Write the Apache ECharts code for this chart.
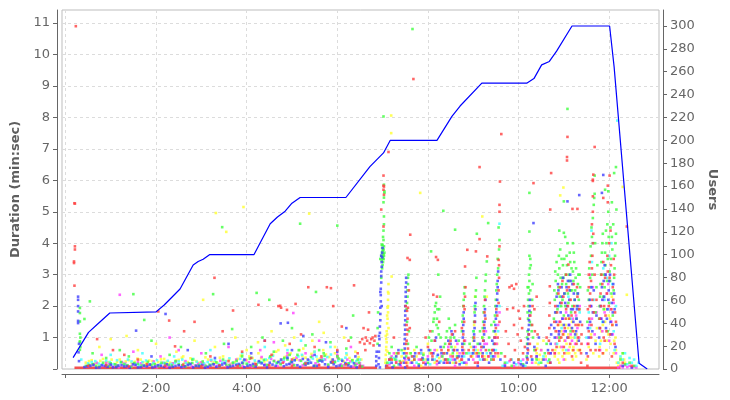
<!DOCTYPE html>
<html><head><meta charset="utf-8">
<script src="https://cdn.jsdelivr.net/npm/echarts@6/dist/echarts.min.js"></script>
<style>html,body{margin:0;padding:0;background:#fff}#c{width:730px;height:400px}</style>
</head><body><div id="c"></div>
<script>
// ---- axis ticks ----
const xTickValues = [0, 2, 4, 6, 8, 10, 12];
const xLabelValues = [2, 4, 6, 8, 10, 12];
const durTickValues = [0,1,2,3,4,5,6,7,8,9,10,11];
const durLabelValues = [1,2,3,4,5,6,7,8,9,10,11];
const userTickValues = [0,20,40,60,80,100,120,140,160,180,200,220,240,260,280,300];

// ---- users line (minutes, users) ----
const usersTime  = [0.17,0.51,0.73,0.98,2.0,2.18,2.53,2.82,2.93,3.04,3.18,4.16,4.52,4.68,4.85,5.0,5.18,6.19,6.72,7.02,7.17,8.2,8.53,8.71,9.19,10.18,10.34,10.51,10.68,10.84,11.18,12.01,12.11,12.66,12.84];
const usersCount = [10,32,40,49,50,56,70,91,94,96,100,100,127,133,138,145,150,150,177,189,200,200,221,230,250,250,254,266,269,278,300,300,264,5,0];

// ---- red floor of shortest samples: [start, end] minutes ----
const redFloorSpans = [[0.2, 6.88], [7.05, 12.25]];
const redFloorDuration = 0.04;

// ---- scatter samples, flat lists of (minute, duration) ----
const redPts = [0.23,10.9,0.2,5.27,0.21,5.26,0.21,3.9,0.21,3.8,0.19,3.42,0.19,3.37,0.2,2.65,
0.7,0.95,1.05,0.6,1.3,0.45,1.6,0.3,2.05,1.83,2.29,1.54,2.42,0.72,2.62,1.2,2.85,1.5,3.29,2.9,3.47,1.2,3.7,1.86,3.9,0.55,4.26,2.04,4.4,0.9,4.7,2.0,4.74,2.01,4.76,1.95,4.89,1.88,4.95,0.8,5.08,2.07,5.2,1.1,5.36,2.6,5.5,0.7,5.77,2.6,5.86,2.57,5.91,2.0,6.1,1.35,6.25,0.9,6.37,2.66,6.45,0.5,3.2,0.4,3.6,0.25,4.1,0.35,4.55,0.45,5.0,0.3,5.65,0.4,6.0,0.6,
0.5,0.1,0.9,0.12,1.4,0.08,1.8,0.15,2.2,0.1,2.6,0.14,3.0,0.09,3.4,0.12,3.8,0.1,4.2,0.15,4.5,0.12,4.8,0.2,5.0,0.1,5.3,0.18,5.6,0.12,5.9,0.22,6.2,0.15,6.5,0.1,
6.5,0.85,6.55,0.95,6.6,0.8,6.63,1.0,6.66,0.9,6.7,1.8,6.72,0.82,6.75,0.95,6.78,1.0,6.8,0.75,6.82,0.9,6.84,1.05,6.62,0.6,6.58,1.3,6.68,1.25,
7.02,6.15,7.02,5.83,7.02,5.7,6.97,5.07,7.02,4.53,7.13,6.9,7.68,9.22,7.03,5.8,7.03,5.54,
7.1,0.1,7.2,0.3,7.3,0.2,7.35,0.5,7.25,1.0,7.15,0.3,7.4,0.2,
7.52,0.2,7.53,0.5,7.52,0.8,7.54,1.1,7.53,1.4,7.55,1.6,7.54,1.85,7.56,1.95,7.51,2.0,7.57,0.35,7.56,0.65,7.6,1.3,7.61,4.27,7.6,3.47,7.55,3.53,7.58,2.5,7.53,0.9,7.55,1.25,7.54,0.1,
7.7,0.3,7.8,0.5,7.9,0.2,8.0,0.7,8.05,1.2,8.1,0.4,8.15,0.9,8.2,0.25,8.25,1.5,8.12,2.36,8.2,2.3,8.18,3.56,8.22,3.47,7.95,1.0,8.3,0.6,7.65,0.4,7.85,0.3,8.08,0.5,
8.4,0.3,8.45,0.6,8.5,0.9,8.55,0.4,8.6,1.2,8.62,0.2,8.35,0.5,8.43,0.2,8.47,0.8,8.53,1.1,8.58,0.6,8.65,0.35,
8.74,0.3,8.76,0.7,8.78,1.1,8.8,1.5,8.81,1.9,8.82,2.3,8.83,2.6,8.82,3.26,8.87,3.79,8.77,0.5,8.75,1.3,8.79,2.0,8.8,0.9,8.9,0.6,
8.95,0.4,9.02,1.0,9.1,0.2,9.06,3.74,9.01,0.6,9.03,1.5,9.04,0.2,9.08,0.5,9.18,0.7,
9.2,0.4,9.22,0.9,9.24,1.4,9.25,1.8,9.26,2.2,9.28,0.6,9.14,4.13,9.14,6.42,9.31,3.58,9.23,1.2,9.25,0.3,9.27,1.6,9.33,0.4,9.42,0.6,
9.45,0.3,9.48,0.8,9.5,1.3,9.53,1.7,9.55,0.5,9.56,2.1,9.56,2.5,9.57,2.9,9.57,3.3,9.56,3.47,9.58,3.9,9.58,5.0,9.58,5.22,9.59,5.96,9.54,1.0,9.58,1.5,9.62,7.47,9.47,1.0,9.49,0.5,9.51,1.9,
9.7,0.4,9.75,1.9,9.78,0.8,9.8,2.6,9.85,2.65,9.88,1.94,9.9,1.4,9.92,0.6,9.95,2.7,9.98,1.1,10.0,0.3,10.03,1.6,10.05,0.9,10.08,1.3,10.1,0.5,10.12,2.0,10.14,0.7,9.72,1.2,9.83,0.3,10.0,1.85,9.9,2.55,
10.2,0.3,10.25,0.8,10.3,1.4,10.33,5.91,10.35,1.9,10.38,0.6,10.42,1.1,10.4,2.3,10.21,0.6,10.23,1.1,10.26,1.7,10.28,0.4,10.31,2.0,10.36,1.2,
10.66,0.5,10.67,0.9,10.68,1.3,10.68,1.7,10.69,2.1,10.69,2.63,10.7,5.07,10.72,6.23,10.7,0.2,10.62,1.0,10.75,0.6,
10.8,0.5,10.82,1.2,10.85,1.8,10.88,2.4,10.9,0.9,10.92,1.5,10.95,2.1,10.97,2.8,11.0,0.7,11.02,1.3,11.05,1.9,11.07,2.5,11.1,3.32,11.1,1.0,11.12,1.6,11.15,2.2,11.18,0.4,11.2,1.2,11.22,2.7,11.25,1.8,11.28,0.8,11.3,2.3,11.32,1.4,11.35,0.6,11.07,6.74,11.07,6.63,11.08,7.38,11.19,5.09,11.3,5.09,11.05,3.0,10.98,1.1,
10.79,1.5,10.81,2.0,10.84,0.7,10.87,1.4,10.91,2.6,10.94,1.0,10.99,2.3,11.01,0.5,11.04,1.6,11.09,2.0,11.11,2.6,11.14,0.8,11.17,1.7,11.21,0.6,11.23,2.0,11.26,1.4,11.29,2.6,11.31,1.0,11.34,1.9,
11.38,0.2,11.38,0.5,11.39,0.8,11.39,1.1,11.4,1.4,
11.52,0.1,11.53,0.4,11.54,0.8,11.55,1.2,11.56,1.6,11.57,2.0,11.58,2.4,11.6,2.8,11.62,3.2,11.63,3.6,11.64,4.0,11.62,4.6,11.64,5.0,11.64,5.49,11.65,6.18,11.64,6.02,11.64,5.98,11.68,7.06,11.55,2.6,11.6,1.0,11.66,1.8,11.7,0.6,11.72,2.2,11.68,3.0,11.53,1.9,11.55,3.0,11.57,3.4,11.59,0.6,11.61,1.4,11.63,2.2,11.65,4.3,
11.78,0.6,11.8,1.3,11.82,2.0,11.85,2.7,11.87,3.4,11.9,0.9,11.92,1.7,11.95,2.4,11.97,3.1,12.0,4.0,11.97,5.83,11.87,5.44,12.02,1.1,12.05,1.9,12.08,2.6,12.1,3.5,12.12,0.8,12.15,1.5,12.01,6.15,12.03,4.4,11.88,1.0,12.06,0.4,11.97,5.3,
11.79,1.6,11.81,2.4,11.83,3.0,11.86,0.5,11.89,2.0,11.91,2.9,11.94,1.2,11.96,3.6,11.99,2.0,12.01,2.9,12.04,3.3,12.07,1.4,12.09,2.2,12.11,3.0,12.13,1.8,
12.39,4.53,12.3,0.2,12.5,0.1];

const bluePts = [0.28,2.3,0.28,2.2,0.28,2.0,0.28,1.83,0.28,1.53,0.28,1.46,0.29,0.53,0.3,0.25,0.3,0.8,
0.42,0.06,0.55,0.1,0.68,0.04,0.8,0.12,0.93,0.07,1.05,0.05,1.17,0.11,1.3,0.08,1.42,0.04,1.55,0.13,1.66,0.06,1.8,0.09,1.92,0.05,2.04,0.12,2.18,0.07,2.3,0.04,2.43,0.1,2.56,0.06,2.7,0.13,2.82,0.05,2.95,0.09,3.08,0.04,3.2,0.11,3.33,0.07,3.46,0.14,3.58,0.05,3.7,0.1,3.83,0.16,3.95,0.06,4.08,0.12,4.2,0.08,4.33,0.18,4.45,0.05,4.57,0.14,4.7,0.22,4.82,0.09,4.94,0.16,5.06,0.28,5.18,0.07,5.3,0.13,5.42,0.2,5.55,0.1,5.67,0.24,5.8,0.06,5.92,0.15,6.05,0.11,6.18,0.19,6.3,0.08,6.43,0.05,
0.48,0.08,0.62,0.13,0.75,0.05,0.87,0.1,1.0,0.14,1.12,0.06,1.24,0.12,1.36,0.09,1.49,0.15,1.6,0.05,1.73,0.11,1.86,0.14,1.98,0.08,2.11,0.1,2.24,0.15,2.37,0.07,2.5,0.12,2.63,0.09,2.76,0.16,2.89,0.1,3.02,0.13,3.14,0.07,3.27,0.15,3.4,0.1,3.52,0.18,3.64,0.08,3.77,0.13,3.9,0.2,4.02,0.1,4.14,0.16,4.27,0.25,4.39,0.12,4.51,0.2,4.64,0.1,4.76,0.3,4.88,0.14,5.0,0.22,5.12,0.12,5.24,0.32,5.36,0.18,5.48,0.1,5.61,0.27,5.73,0.15,5.86,0.22,5.98,0.09,6.11,0.26,6.24,0.12,6.37,0.18,6.5,0.1,
1.56,1.22,2.21,1.75,1.9,0.4,2.7,0.6,3.3,0.35,3.6,0.8,4.1,0.5,4.4,0.9,4.75,1.45,5.0,0.6,5.25,1.05,5.5,0.45,5.75,0.85,6.0,0.55,6.2,1.3,6.4,0.4,3.95,0.3,4.9,0.35,5.35,0.3,5.9,0.3,4.91,1.47,
6.86,0.1,6.86,0.25,6.86,0.4,6.87,0.55,
6.91,0.15,6.92,0.35,6.92,0.55,6.93,0.75,6.93,0.95,6.94,1.15,6.94,1.35,6.95,1.55,6.95,1.75,6.95,1.95,6.96,2.15,6.96,2.35,6.96,2.55,6.97,2.75,6.97,2.95,6.97,3.1,6.98,3.25,6.98,3.4,6.99,3.55,6.99,3.7,7.0,3.85,6.94,0.05,6.97,3.6,6.98,2.0,6.92,1.05,6.95,2.45,
7.08,0.1,7.15,0.3,7.22,0.05,7.3,0.4,7.38,0.15,7.2,0.2,7.35,0.6,
7.47,0.2,7.48,0.5,7.48,0.8,7.49,1.1,7.49,1.4,7.5,1.7,7.5,2.0,7.51,2.3,7.51,2.6,7.52,2.9,7.5,0.05,7.48,0.35,7.49,0.65,7.49,0.95,7.5,1.25,7.5,1.55,7.5,1.85,7.51,2.15,7.51,2.45,7.52,2.75,
7.65,0.2,7.72,0.5,7.8,0.1,7.88,0.35,7.95,0.15,8.02,0.6,8.1,0.3,8.16,0.9,8.22,0.45,8.28,0.7,8.18,1.0,8.25,0.2,7.58,0.3,7.7,0.4,7.85,0.6,8.0,0.3,8.12,0.5,
8.35,0.2,8.42,0.5,8.5,0.8,8.55,1.1,8.6,0.3,8.65,0.6,8.7,0.15,8.75,0.4,8.76,0.6,8.77,1.0,8.78,1.4,8.79,1.8,8.8,0.2,8.76,0.8,8.78,1.2,8.79,1.6,8.3,0.5,8.38,0.3,8.45,0.9,8.48,0.2,8.52,1.2,8.57,0.6,8.62,0.9,8.68,0.4,8.9,0.3,
9.0,0.5,9.02,0.9,9.03,1.3,9.04,1.7,9.05,2.1,9.01,0.7,9.02,1.1,9.04,1.5,9.05,1.9,9.12,0.4,9.15,0.8,
9.22,0.3,9.23,0.7,9.24,1.1,9.25,1.5,9.26,1.9,9.27,2.2,9.21,0.5,9.23,0.9,9.25,1.3,9.26,1.7,9.38,0.5,9.42,0.9,
9.44,0.4,9.46,0.8,9.48,1.2,9.5,1.6,9.52,2.0,9.53,2.4,9.54,2.8,9.55,3.1,9.1,0.1,9.35,0.2,9.45,0.6,9.47,1.0,9.49,1.4,9.51,1.8,9.53,2.2,9.54,2.6,9.6,0.3,
9.7,0.1,9.9,0.2,10.05,0.15,10.1,0.1,
10.18,0.2,10.2,0.5,10.21,0.8,10.22,1.1,10.23,1.4,10.24,1.7,10.25,2.0,10.3,0.3,10.35,0.7,10.33,4.64,10.4,0.4,10.45,1.0,10.19,0.35,10.2,0.65,10.21,0.95,10.22,1.25,10.23,1.55,10.24,1.85,10.25,2.2,
10.55,0.3,10.6,0.1,10.7,0.2,10.71,0.5,10.71,0.8,10.72,1.1,10.72,1.4,10.65,0.6,
10.8,1.0,10.83,1.5,10.86,2.0,10.88,2.5,10.9,1.2,10.93,1.8,10.96,2.3,10.98,2.9,11.0,1.4,11.03,2.1,11.06,2.6,11.08,1.0,11.1,1.7,11.12,2.2,11.15,2.8,11.18,1.3,11.2,1.9,11.22,2.4,11.25,1.1,11.28,1.6,11.3,2.0,11.33,0.9,11.36,1.5,11.08,5.33,11.34,5.53,11.14,3.0,
10.79,1.3,10.81,1.8,10.84,2.3,10.87,2.7,10.89,1.1,10.92,2.1,10.95,2.6,10.97,1.6,11.01,2.4,11.04,1.2,11.07,2.0,11.09,2.8,11.11,1.4,11.13,2.5,11.16,1.9,11.19,2.7,11.21,1.5,11.24,2.2,11.27,1.2,11.29,1.9,11.31,2.4,
11.5,0.5,11.55,1.0,11.58,1.5,11.6,2.0,11.63,1.2,11.66,2.5,11.7,0.8,11.72,1.7,11.53,1.3,11.57,2.2,11.61,2.6,11.64,1.8,
11.78,1.0,11.82,1.6,11.85,2.2,11.88,2.8,11.9,3.3,11.93,1.3,11.96,1.9,11.99,2.5,12.02,3.0,12.05,1.1,12.08,1.8,12.11,2.4,12.14,0.7,11.87,6.17,11.84,5.6,12.16,1.4,
11.79,1.3,11.81,2.0,11.84,2.6,11.87,1.5,11.89,2.3,11.92,3.0,11.95,1.6,11.98,2.2,12.0,2.8,12.03,1.5,12.06,2.1,12.09,2.7,12.12,1.9,
12.3,0.1,12.5,0.05];

const greenPts = [0.32,1.94,0.32,1.78,0.32,1.51,0.32,1.12,0.32,0.88,0.32,0.85,0.32,0.61,0.54,2.15,0.42,1.59,0.33,0.7,0.33,1.0,
0.45,0.1,0.6,0.15,0.75,0.08,0.9,0.12,1.0,0.18,1.15,0.1,1.3,0.14,1.45,0.07,1.6,0.16,1.75,0.1,1.9,0.13,2.05,0.09,2.2,0.17,2.35,0.11,2.5,0.15,2.65,0.08,2.8,0.19,2.95,0.12,3.1,0.1,3.25,0.16,3.4,0.09,3.55,0.14,3.7,0.2,3.85,0.11,4.0,0.17,4.15,0.1,4.3,0.22,4.45,0.13,4.6,0.25,4.75,0.15,4.9,0.3,5.05,0.12,5.2,0.26,5.35,0.18,5.5,0.1,5.65,0.28,5.8,0.14,5.95,0.22,6.1,0.1,6.25,0.18,6.4,0.12,6.55,0.08,
0.52,0.13,0.68,0.1,0.83,0.2,0.97,0.09,1.1,0.15,1.23,0.22,1.37,0.12,1.52,0.19,1.68,0.11,1.82,0.23,1.97,0.15,2.12,0.2,2.28,0.13,2.43,0.25,2.58,0.12,2.73,0.18,2.88,0.1,3.03,0.24,3.18,0.14,3.33,0.21,3.48,0.3,3.62,0.12,3.78,0.26,3.92,0.18,4.07,0.33,4.22,0.14,4.38,0.29,4.52,0.4,4.67,0.2,4.83,0.35,4.98,0.22,5.12,0.45,5.27,0.16,5.42,0.38,5.57,0.24,5.72,0.42,5.88,0.2,6.03,0.33,6.18,0.15,6.33,0.28,6.48,0.2,
0.6,0.5,0.9,0.35,1.2,0.6,1.5,2.38,1.74,1.56,1.4,0.4,1.9,0.9,2.3,0.45,2.55,0.7,2.8,0.3,3.26,2.38,3.68,1.27,3.1,0.5,3.5,0.8,3.9,0.4,4.22,2.42,4.5,2.2,4.1,0.7,4.35,1.0,4.6,0.55,4.8,0.9,5.0,1.3,5.15,0.6,5.3,0.75,5.53,2.45,5.45,1.1,5.7,0.5,5.85,0.85,6.0,0.4,6.35,1.7,6.2,0.65,6.45,0.3,3.46,4.51,5.18,4.62,6.0,4.56,4.95,0.45,5.6,0.6,6.3,1.0,
6.89,0.8,6.89,1.3,6.9,1.8,
6.95,3.5,6.97,3.6,6.99,3.7,7.0,3.55,7.01,3.8,7.02,3.65,7.03,3.9,6.98,3.45,7.0,3.75,7.02,3.5,7.04,3.7,6.99,3.85,7.01,4.2,7.02,4.4,7.03,4.6,7.03,4.85,7.02,5.3,7.03,5.45,7.04,5.6,7.04,5.65,7.03,5.86,7.02,8.03,6.97,2.9,6.99,3.2,7.0,3.3,7.01,3.4,6.98,3.95,7.0,3.6,7.01,3.5,7.02,3.8,7.03,3.6,7.0,3.95,7.02,4.1,
7.1,0.2,7.18,0.35,7.25,0.1,7.32,0.5,7.38,0.25,7.2,0.7,7.15,0.5,7.28,0.3,7.42,0.6,
7.53,1.9,7.54,2.1,7.55,2.3,7.55,2.5,7.56,2.7,7.56,2.9,7.57,3.0,7.54,1.5,7.58,1.2,7.52,0.4,7.56,0.8,
7.7,0.3,7.8,0.15,7.9,0.45,8.0,0.2,8.05,0.6,8.1,1.2,8.12,1.5,8.15,1.8,8.18,2.1,8.2,1.6,8.22,1.3,8.25,1.9,8.27,2.3,8.07,3.74,8.23,3.0,8.28,1.0,8.08,0.9,7.66,10.81,8.13,1.6,8.16,2.0,8.19,1.4,8.21,1.9,8.24,1.1,7.62,0.5,7.75,0.7,7.88,0.3,8.02,1.0,
8.32,0.4,8.38,0.8,8.42,1.2,8.46,1.6,8.5,1.0,8.55,0.5,8.6,1.4,8.34,5.03,8.6,4.43,8.75,1.2,8.77,1.7,8.79,2.2,8.81,2.6,8.8,0.8,8.76,1.5,8.78,2.0,8.8,2.4,8.35,0.7,8.4,1.0,8.44,0.3,8.48,1.3,8.52,0.7,8.58,1.0,8.64,0.4,8.68,0.9,8.85,0.5,8.92,0.8,
9.0,1.0,9.02,1.5,9.04,2.0,9.06,2.5,9.07,2.9,9.08,4.3,9.01,1.2,9.03,1.8,9.05,2.3,9.1,0.8,9.15,1.2,
9.2,1.0,9.22,1.5,9.24,2.0,9.26,2.5,9.28,3.0,9.3,3.42,9.33,4.64,9.21,1.3,9.23,1.8,9.25,2.3,9.27,2.8,9.35,1.0,9.4,1.4,
9.45,1.2,9.48,1.7,9.5,2.2,9.52,2.7,9.55,3.2,9.57,3.8,9.58,4.1,9.56,4.5,9.12,0.5,9.35,0.6,9.4,0.3,9.46,1.5,9.49,2.0,9.51,2.5,9.53,3.0,9.54,3.5,9.62,0.5,
9.7,0.2,9.85,0.1,10.0,0.3,10.1,0.15,
10.18,0.4,10.19,0.8,10.2,1.2,10.21,1.6,10.22,2.0,10.23,2.4,10.24,2.8,10.25,3.2,10.26,3.5,10.24,4.37,10.24,5.6,10.28,1.4,10.3,2.2,10.32,1.0,10.35,0.6,10.2,2.6,10.27,1.8,10.4,0.3,
10.19,1.0,10.2,1.8,10.21,2.2,10.22,2.6,10.23,3.0,10.25,1.5,10.26,2.5,10.27,3.3,10.29,1.2,10.31,2.7,10.24,3.6,
10.5,0.2,10.58,0.5,10.62,0.8,10.68,0.3,
10.78,1.6,10.8,2.2,10.82,2.8,10.84,3.4,10.86,1.9,10.88,2.6,10.9,3.2,10.92,3.8,10.94,2.0,10.96,2.7,10.98,3.3,11.0,1.7,11.02,2.4,11.04,3.0,11.06,3.6,11.08,4.0,11.1,2.1,11.12,2.8,11.14,3.4,11.16,1.8,11.18,2.5,11.2,3.1,11.22,3.7,11.24,2.2,11.26,2.9,11.28,1.6,11.3,2.4,11.32,3.0,11.34,1.9,11.36,2.6,11.0,4.33,11.0,5.33,11.08,8.27,10.9,1.0,11.15,1.2,
10.79,2.5,10.81,3.1,10.83,1.8,10.85,2.4,10.87,3.0,10.89,3.6,10.91,2.3,10.93,2.9,10.95,3.5,10.97,2.2,10.99,2.9,11.01,3.5,11.03,2.0,11.05,2.7,11.07,3.3,11.09,2.4,11.11,3.0,11.13,3.7,11.15,2.5,11.17,3.2,11.19,2.0,11.21,2.8,11.23,3.4,11.25,2.5,11.27,3.2,11.29,2.0,11.31,2.7,11.33,2.2,11.35,3.0,10.9,4.4,11.03,4.2,11.2,4.0,
11.52,1.5,11.55,2.2,11.58,2.9,11.6,3.6,11.62,4.2,11.64,4.8,11.66,5.22,11.67,5.44,11.68,5.57,11.68,6.15,11.7,1.8,11.72,2.6,11.74,3.3,11.53,2.5,11.56,3.2,11.59,3.9,11.61,4.5,11.63,3.0,11.69,4.0,
11.78,1.6,11.8,2.3,11.82,3.0,11.84,3.7,11.86,4.3,11.88,1.9,11.9,2.6,11.92,3.3,11.94,4.0,11.96,4.6,11.98,5.0,12.0,2.1,12.02,2.8,12.04,3.5,12.06,4.2,12.08,1.7,12.1,2.5,12.12,3.2,12.14,4.0,12.16,5.07,12.11,6.23,12.15,6.42,12.06,5.3,11.91,5.7,11.98,5.65,11.97,1.2,
11.79,2.0,11.81,2.7,11.83,3.4,11.85,4.0,11.87,2.3,11.89,3.0,11.91,3.7,11.93,4.4,11.95,2.8,11.97,3.5,11.99,4.2,12.01,3.1,12.03,4.5,12.05,2.4,12.07,3.8,12.09,4.6,12.11,2.9,12.13,3.6,12.15,4.3,
12.25,0.3,12.35,0.15,12.45,0.2,12.55,0.1,12.3,0.5];

const yellowPts = [0.45,0.2,0.58,0.28,0.7,0.18,0.83,0.32,0.95,0.22,1.08,0.16,1.2,0.3,1.33,0.24,1.46,0.19,1.59,0.33,1.72,0.21,1.85,0.27,1.98,0.17,2.11,0.31,2.24,0.23,2.37,0.18,2.5,0.29,2.63,0.2,2.76,0.34,2.89,0.25,3.02,0.19,3.15,0.3,3.28,0.22,3.41,0.36,3.54,0.24,3.67,0.18,3.8,0.32,3.93,0.26,4.06,0.4,4.19,0.21,4.32,0.34,4.45,0.28,4.58,0.45,4.71,0.25,4.84,0.38,4.97,0.5,5.1,0.3,5.23,0.42,5.36,0.27,5.49,0.55,5.62,0.33,5.75,0.46,5.88,0.29,6.01,0.4,6.14,0.24,6.27,0.35,6.4,0.2,6.53,0.3,
0.52,0.25,0.64,0.17,0.77,0.26,0.89,0.2,1.02,0.3,1.14,0.22,1.27,0.18,1.4,0.28,1.53,0.23,1.66,0.3,1.79,0.18,1.92,0.25,2.05,0.22,2.18,0.32,2.31,0.2,2.44,0.27,2.57,0.36,2.7,0.22,2.83,0.3,2.96,0.2,3.09,0.37,3.22,0.26,3.35,0.2,3.48,0.4,3.61,0.3,3.74,0.22,3.87,0.42,4.0,0.28,4.13,0.35,4.26,0.5,4.39,0.24,4.52,0.38,4.65,0.55,4.78,0.3,4.91,0.44,5.04,0.34,5.17,0.6,5.3,0.36,5.43,0.48,5.56,0.3,5.69,0.6,5.82,0.38,5.95,0.5,6.08,0.3,6.21,0.45,6.34,0.28,6.47,0.38,
0.75,0.7,1.0,0.95,1.35,1.05,1.6,0.6,2.0,0.8,2.45,0.55,2.85,0.9,3.04,2.2,3.3,0.7,3.75,1.0,4.0,0.6,4.25,0.85,4.55,1.2,4.85,0.75,5.05,1.0,5.25,0.65,5.45,0.9,5.7,1.15,5.95,0.7,6.15,1.0,6.4,0.55,5.6,1.5,4.7,0.6,3.9,0.45,2.6,0.4,3.32,4.96,3.55,4.36,3.93,5.15,5.38,4.94,
7.06,0.2,7.07,0.45,7.08,0.7,7.08,0.95,7.09,1.2,7.1,1.45,7.1,1.7,7.11,1.95,7.12,2.2,7.12,2.45,7.13,2.7,7.2,2.94,7.09,0.1,7.11,0.55,7.13,1.3,7.19,8.06,7.19,7.5,7.83,5.6,7.07,1.05,7.12,2.0,7.07,0.3,7.08,0.6,7.09,0.85,7.1,1.1,7.11,1.6,7.12,1.8,7.13,2.4,
7.22,0.3,7.28,0.5,7.35,0.15,7.42,0.4,7.48,0.6,7.55,0.2,7.3,0.4,7.45,0.25,7.6,0.5,
7.65,0.25,7.75,0.4,7.85,0.1,7.95,0.3,8.05,0.5,8.15,0.2,8.25,0.35,8.0,0.8,7.7,0.6,7.9,0.5,8.1,0.3,8.2,0.6,
8.35,0.3,8.45,0.6,8.55,0.2,8.65,0.5,8.75,0.3,8.85,0.15,8.98,0.4,9.0,0.9,9.02,1.4,9.03,1.9,9.04,2.3,9.18,0.5,9.2,1.0,9.3,0.3,9.42,0.6,9.5,1.1,9.55,0.4,9.2,4.85,9.3,2.3,8.38,0.5,8.42,0.2,8.5,0.45,8.6,0.7,8.7,0.25,8.8,0.6,8.95,0.7,9.05,0.5,9.1,0.6,9.25,0.4,9.4,0.5,9.45,0.3,9.53,0.8,
10.38,0.2,10.4,0.5,10.42,0.8,10.45,0.3,10.5,0.6,10.55,0.9,10.6,0.4,10.65,0.2,10.39,0.35,10.41,0.65,10.44,0.15,10.47,0.45,10.52,0.3,
10.8,0.4,10.83,0.8,10.86,1.2,10.89,0.5,10.92,1.0,10.95,1.4,10.98,0.6,11.0,1.1,11.03,0.3,11.06,0.8,11.09,1.3,11.12,0.5,11.15,1.0,11.18,1.5,11.21,0.7,11.24,1.2,11.27,0.4,11.3,0.9,11.33,1.4,11.36,0.6,10.9,0.2,11.1,1.6,11.2,0.3,10.99,5.77,10.92,5.52,
10.81,0.6,10.84,1.0,10.87,0.3,10.88,1.4,10.91,0.7,10.94,1.2,10.97,0.4,11.01,0.9,11.04,1.4,11.07,0.5,11.1,1.1,11.13,0.7,11.16,1.3,11.19,0.6,11.22,1.0,11.25,0.5,11.28,1.1,11.31,0.6,11.34,1.0,
11.5,0.3,11.55,0.7,11.6,1.1,11.65,0.5,11.7,0.9,11.73,1.3,
11.78,0.4,11.82,0.9,11.86,1.4,11.9,1.9,11.94,0.6,11.98,1.1,12.02,1.6,12.06,2.3,12.1,0.5,12.14,1.0,12.17,0.2,11.79,0.7,11.83,1.2,11.87,0.5,11.91,1.5,11.95,0.9,11.99,1.7,12.03,0.8,12.07,1.4,12.11,0.9,12.15,0.6,
12.2,0.1,12.25,0.35,12.3,0.5,12.35,0.2,12.39,2.36,12.3,5.79,12.22,0.2,12.28,0.1,12.33,0.3];

const magentaPts = [0.48,0.08,0.62,0.15,0.76,0.06,0.9,0.2,1.04,0.1,1.18,0.05,1.32,0.17,1.46,0.09,1.6,0.22,1.74,0.07,1.88,0.14,2.02,0.05,2.16,0.19,2.3,0.1,2.44,0.24,2.58,0.07,2.72,0.16,2.86,0.11,3.0,0.21,3.14,0.06,3.28,0.15,3.42,0.26,3.56,0.09,3.7,0.18,3.84,0.12,3.98,0.28,4.12,0.08,4.26,0.2,4.4,0.14,4.54,0.32,4.68,0.1,4.82,0.24,4.96,0.16,5.1,0.36,5.24,0.12,5.38,0.27,5.52,0.18,5.66,0.33,5.8,0.1,5.94,0.25,6.08,0.15,6.22,0.3,6.36,0.08,6.5,0.18,
0.55,0.12,0.69,0.2,0.83,0.1,0.97,0.16,1.11,0.12,1.25,0.22,1.39,0.06,1.53,0.14,1.67,0.18,1.81,0.1,1.95,0.24,2.09,0.13,2.23,0.08,2.37,0.18,2.51,0.12,2.65,0.25,2.79,0.08,2.93,0.17,3.07,0.13,3.21,0.28,3.35,0.1,3.49,0.2,3.63,0.14,3.77,0.3,3.91,0.1,4.05,0.22,4.19,0.16,4.33,0.38,4.47,0.12,4.61,0.26,4.75,0.18,4.89,0.4,5.03,0.14,5.17,0.28,5.31,0.2,5.45,0.42,5.59,0.14,5.73,0.3,5.87,0.2,6.01,0.36,6.15,0.12,6.29,0.24,6.43,0.16,6.57,0.1,
0.8,0.45,1.2,2.36,1.5,0.55,2.1,0.4,2.5,0.6,3.0,0.5,3.6,0.7,4.3,0.6,4.6,0.85,5.03,1.78,5.3,0.5,5.6,0.9,6.0,0.45,6.3,0.7,4.9,0.5,2.3,1.0,
7.15,0.15,7.2,0.4,7.3,0.25,7.4,0.1,7.25,0.5,7.5,0.3,
7.7,0.1,7.8,0.3,7.95,0.2,8.1,0.5,8.2,0.15,8.3,0.4,7.62,0.2,7.85,0.5,8.0,0.4,8.15,0.6,
8.4,0.2,8.5,0.4,8.6,0.1,8.75,0.3,8.8,0.5,8.82,0.9,9.0,0.3,9.05,0.7,9.1,0.2,9.2,0.4,9.25,0.8,9.28,1.2,9.4,0.3,9.45,0.6,9.5,1.0,9.55,1.4,9.58,1.8,8.35,0.5,8.45,0.7,8.55,0.3,8.65,0.8,8.7,0.5,8.78,0.6,8.85,0.2,8.97,0.5,9.08,0.4,9.17,0.6,9.3,0.8,9.35,0.4,9.48,0.4,9.52,0.8,
9.7,0.15,9.8,0.25,9.9,0.1,10.0,0.2,10.1,0.3,
10.3,0.2,10.4,0.4,10.5,0.6,10.6,0.3,10.7,0.5,
10.8,0.5,10.85,1.0,10.9,1.5,10.95,0.7,11.0,1.2,11.05,1.8,11.1,0.6,11.15,1.1,11.2,1.6,11.25,0.8,11.3,1.3,11.35,2.0,11.0,0.3,10.82,0.8,10.88,1.2,10.97,1.6,11.03,0.9,11.12,1.4,11.18,0.9,11.27,1.7,11.33,1.0,
11.52,0.8,11.56,1.4,11.6,2.0,11.64,2.6,11.68,1.1,11.72,1.8,11.58,3.0,11.62,1.6,
11.8,0.6,11.85,1.2,11.9,1.8,11.95,2.4,12.0,0.9,12.05,1.5,12.1,2.1,12.15,0.5,11.92,3.0,11.83,1.6,11.88,2.2,11.98,2.7,12.03,1.9,12.08,1.1,
12.2,0.05,12.25,0.1,12.3,0.05,12.35,0.12,12.4,0.06,12.45,0.1,12.5,0.04,12.55,0.08,12.6,0.05];

const cyanPts = [0.5,0.18,0.66,0.25,0.82,0.14,0.98,0.22,1.14,0.28,1.3,0.16,1.46,0.24,1.62,0.13,1.78,0.27,1.94,0.19,2.1,0.15,2.26,0.26,2.42,0.2,2.58,0.3,2.74,0.14,2.9,0.23,3.06,0.18,3.22,0.29,3.38,0.16,3.54,0.25,3.7,0.2,3.86,0.32,4.02,0.15,4.18,0.27,4.34,0.21,4.5,0.35,4.66,0.18,4.82,0.3,4.98,0.24,5.14,0.4,5.3,0.2,5.46,0.33,5.62,0.26,5.78,0.38,5.94,0.22,6.1,0.3,6.26,0.17,6.42,0.25,
0.58,0.22,0.74,0.17,0.9,0.27,1.06,0.15,1.22,0.21,1.38,0.3,1.54,0.17,1.7,0.22,1.86,0.14,2.02,0.28,2.18,0.2,2.34,0.16,2.5,0.24,2.66,0.19,2.82,0.32,2.98,0.15,3.14,0.22,3.3,0.27,3.46,0.2,3.62,0.34,3.78,0.16,3.94,0.26,4.1,0.36,4.26,0.2,4.42,0.3,4.58,0.42,4.74,0.24,4.9,0.36,5.06,0.28,5.22,0.45,5.38,0.25,5.54,0.4,5.7,0.3,5.86,0.46,6.02,0.26,6.18,0.36,6.34,0.22,6.5,0.3,
1.0,0.45,1.7,0.5,2.4,0.4,3.2,0.6,3.9,0.5,4.4,0.7,4.9,0.6,5.2,0.9,5.5,0.55,5.85,0.7,6.2,0.5,0.35,0.3,
7.15,0.2,7.25,0.35,7.35,0.15,7.3,0.3,7.45,0.5,
7.75,0.2,7.9,0.3,8.05,0.15,8.2,0.4,8.28,0.25,7.65,0.4,7.85,0.5,8.0,0.3,8.15,0.3,
8.45,0.3,8.6,0.2,8.8,0.4,8.97,0.5,9.0,1.2,9.03,2.0,9.15,0.3,9.3,0.5,9.45,0.8,9.55,1.2,9.58,2.0,9.58,4.62,8.35,0.5,8.5,0.3,8.55,0.6,8.65,0.4,8.75,0.2,8.9,0.5,9.05,0.6,9.2,0.7,9.25,0.3,9.4,0.4,9.5,0.6,
9.65,0.1,9.75,0.2,9.85,0.3,9.95,0.15,10.05,0.25,10.15,0.1,
10.3,0.3,10.45,0.2,10.55,0.4,10.65,0.25,
10.85,0.8,10.95,1.3,11.05,0.6,11.15,1.6,11.25,1.0,11.35,1.8,10.9,2.0,11.1,2.3,
11.5,1.0,11.55,1.8,11.6,2.6,11.62,3.4,11.64,4.0,11.58,1.3,11.66,2.2,11.61,4.4,
11.8,0.8,11.85,1.5,11.9,2.2,11.95,2.9,12.0,3.6,12.05,4.0,12.1,1.2,12.15,2.0,12.12,0.6,12.18,7.9,11.87,3.2,11.97,1.9,12.07,2.7,
12.2,0.2,12.25,0.4,12.3,0.3,12.35,0.5,12.4,0.15,12.45,0.35,12.5,0.2,12.55,0.3,12.6,0.1,12.65,0.2];

// ---- build ----
const pairs = a => { const r = []; for (let i = 0; i < a.length; i += 2) r.push([a[i], a[i + 1]]); return r; };
const floorData = [];
redFloorSpans.forEach((s, i) => {
  if (i > 0) floorData.push([s[0], null]);
  floorData.push([s[0], redFloorDuration], [s[1], redFloorDuration]);
});
const usersData = usersTime.map((t, i) => [t, usersCount[i]]);

const FONT = 'DejaVu Sans';
const axisColor = '#666';
const scatter = (name, pts, color) => ({
  name, type: 'scatter', data: pairs(pts), symbol: 'rect', symbolSize: 2.6,
  itemStyle: { color }, silent: true, animation: false
});

const chart = echarts.init(document.getElementById('c'), null, { renderer: 'canvas' });
chart.setOption({
  animation: false,
  backgroundColor: '#fff',
  grid: { left: 62, right: 71, top: 10, bottom: 31, show: true, borderColor: '#bdbdbd', borderWidth: 1, backgroundColor: 'transparent' },
  xAxis: {
    type: 'value', min: -0.075, max: 13.1, offset: 5,
    axisLine: { show: true, onZero: false, lineStyle: { color: axisColor, width: 1 } },
    axisTick: { show: true, length: 4, customValues: xTickValues, lineStyle: { color: axisColor } },
    axisLabel: { customValues: xLabelValues, formatter: v => Math.round(v) + ':00', color: '#666', fontSize: 13, fontFamily: FONT, margin: 8 },
    splitLine: { show: true, lineStyle: { color: '#dcdcdc', type: [3, 3] } }
  },
  yAxis: [{
    type: 'value', min: 0, max: 11.415, position: 'left', offset: 5,
    name: 'Duration (min:sec)', nameLocation: 'middle', nameGap: 23, nameRotate: 90,
    nameTextStyle: { color: '#5e5e5e', fontSize: 13, fontWeight: 'bold', fontFamily: FONT },
    axisLine: { show: true, onZero: false, lineStyle: { color: axisColor, width: 1 } },
    axisTick: { show: true, length: 4, customValues: durTickValues, lineStyle: { color: axisColor } },
    axisLabel: { customValues: durLabelValues, color: '#666', fontSize: 13, fontFamily: FONT, margin: 7 },
    splitLine: { show: true, lineStyle: { color: '#dcdcdc', type: [3, 3] } }
  }, {
    type: 'value', min: 0, max: 314, position: 'right', offset: 4,
    name: 'Users', nameLocation: 'middle', nameGap: 25, nameRotate: -90,
    nameTextStyle: { color: '#5e5e5e', fontSize: 13, fontWeight: 'bold', fontFamily: FONT },
    axisLine: { show: true, onZero: false, lineStyle: { color: axisColor, width: 1 } },
    axisTick: { show: true, length: 4, customValues: userTickValues, lineStyle: { color: axisColor } },
    axisLabel: { customValues: userTickValues, color: '#666', fontSize: 13, fontFamily: FONT, margin: 7 },
    splitLine: { show: false }
  }],
  series: [
    { name: 'floor', type: 'line', data: floorData, symbol: 'none', connectNulls: false,
      lineStyle: { color: '#f25050', width: 2.5 }, silent: true, z: 1 },
    scatter('yellow', yellowPts, '#ffff30'),
    scatter('magenta', magentaPts, '#ff40ff'),
    scatter('cyan', cyanPts, '#40ffff'),
    scatter('green', greenPts, '#40ff40'),
    scatter('blue', bluePts, '#4040ff'),
    scatter('red', redPts, '#ff4040'),
    { name: 'Users', type: 'line', yAxisIndex: 1, data: usersData, symbol: 'none',
      lineStyle: { color: '#0000ff', width: 1.2 }, silent: true, z: 5 }
  ]
});
</script></body></html>
